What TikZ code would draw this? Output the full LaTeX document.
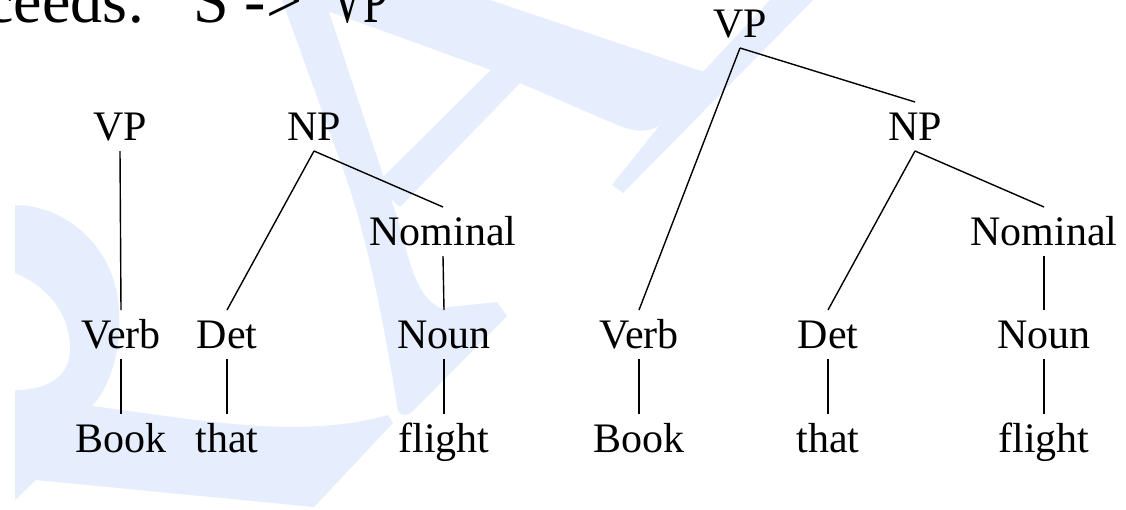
\documentclass[tikz,border=0pt]{standalone}
\usepackage{fontspec}
\setmainfont{Liberation Serif}
\usepackage{graphicx}
\usepackage{tikz}

\definecolor{wmblue}{RGB}{230,237,252}

\begin{document}
\begin{tikzpicture}[x=1pt, y=-1pt,
    main/.style = {font=\fontsize{42}{50}\selectfont, inner sep=0pt, text height=27pt, text depth=0pt, outer sep=11pt},
    wm/.style = {fill=wmblue}]
	\useasboundingbox (0,0) rectangle (1126,509);
	\fill[white] (0,0) rectangle (1126,509);
	\clip (0,0) rectangle (1126,509);

	% watermark in the back
	\fill[wm] (282,0) -- (325,0) -- (397,217) .. controls (410,262) and (415,295) .. (440,308) -- (497,302) -- (507,316) -- (412,412)
		.. controls (404,418) and (397,414) .. (397,405) .. controls (385,330) and (370,250) .. (347,180) -- cycle;
	\fill[wm] (320,0) -- (490,0) -- (707,73) -- (660,125) .. controls (645,135) and (630,130) .. (615,124) -- (520,83) -- (491,70) -- (325,10) -- cycle;
	\fill[wm] (491,70) -- (520,83) -- (400,207) -- (375,185) -- cycle;
	\fill[wm] (770,0) -- (813,0) -- (623,193) -- (612,185) -- (700,75) -- cycle;
	\fill[wm] (15,205) .. controls (60,205) and (110,240) .. (118,300) .. controls (124,350) and (108,390) .. (92,406)
		.. controls (200,420) and (300,440) .. (388,415) -- (393,423) -- (314,507) -- (36,480) -- (15,500) -- (15,390)
		.. controls (50,390) and (72,375) .. (70,345) .. controls (68,310) and (45,285) .. (15,273) -- cycle;

	\node[anchor=base west, inner sep=0pt, font=\fontsize{64}{70}\selectfont] (s) at (-15,22)
		{ceeds:\hspace{48pt}S -{}>\hspace{29pt}\scalebox{0.7}[1]{VP}};

	% left: two trees
	\node[main] (1) at (120,126.5) {VP};
	\node[main] (2) at (314,126.5) {NP};
	\node[main] (3) at (443,231.5) {Nominal};
	\node[main] (4) at (121,334.5) {Verb};
	\node[main] (5) at (227,334.5) {Det};
	\node[main] (6) at (444,334.5) {Noun};
	\node[main] (7) at (121,438.5) {Book};
	\node[main] (8) at (227,438.5) {that};
	\node[main] (9) at (444,438.5) {flight};

	% right: one tree
	\node[main] (10) at (740,23.5) {VP};
	\node[main] (11) at (915,126.5) {NP};
	\node[main] (12) at (1044,231.5) {Nominal};
	\node[main] (13) at (639,334.5) {Verb};
	\node[main] (14) at (828,334.5) {Det};
	\node[main] (15) at (1044,334.5) {Noun};
	\node[main] (16) at (639,438.5) {Book};
	\node[main] (17) at (828,438.5) {that};
	\node[main] (18) at (1044,438.5) {flight};

	\begin{scope}[line width=1.4pt]
		\draw (1.south) -- (4.north);
		\draw (2.south) edge (5.north) edge (3.north);
		\draw (3.south) -- (6.north);
		\draw (4.south) -- (7.north);
		\draw (5.south) -- (8.north);
		\draw (6.south) -- (9.north);

		\draw (10.south) edge (13.north) edge (11.north);
		\draw (11.south) edge (14.north) edge (12.north);
		\draw (12.south) -- (15.north);
		\draw (13.south) -- (16.north);
		\draw (14.south) -- (17.north);
		\draw (15.south) -- (18.north);
	\end{scope}
\end{tikzpicture}
\end{document}
